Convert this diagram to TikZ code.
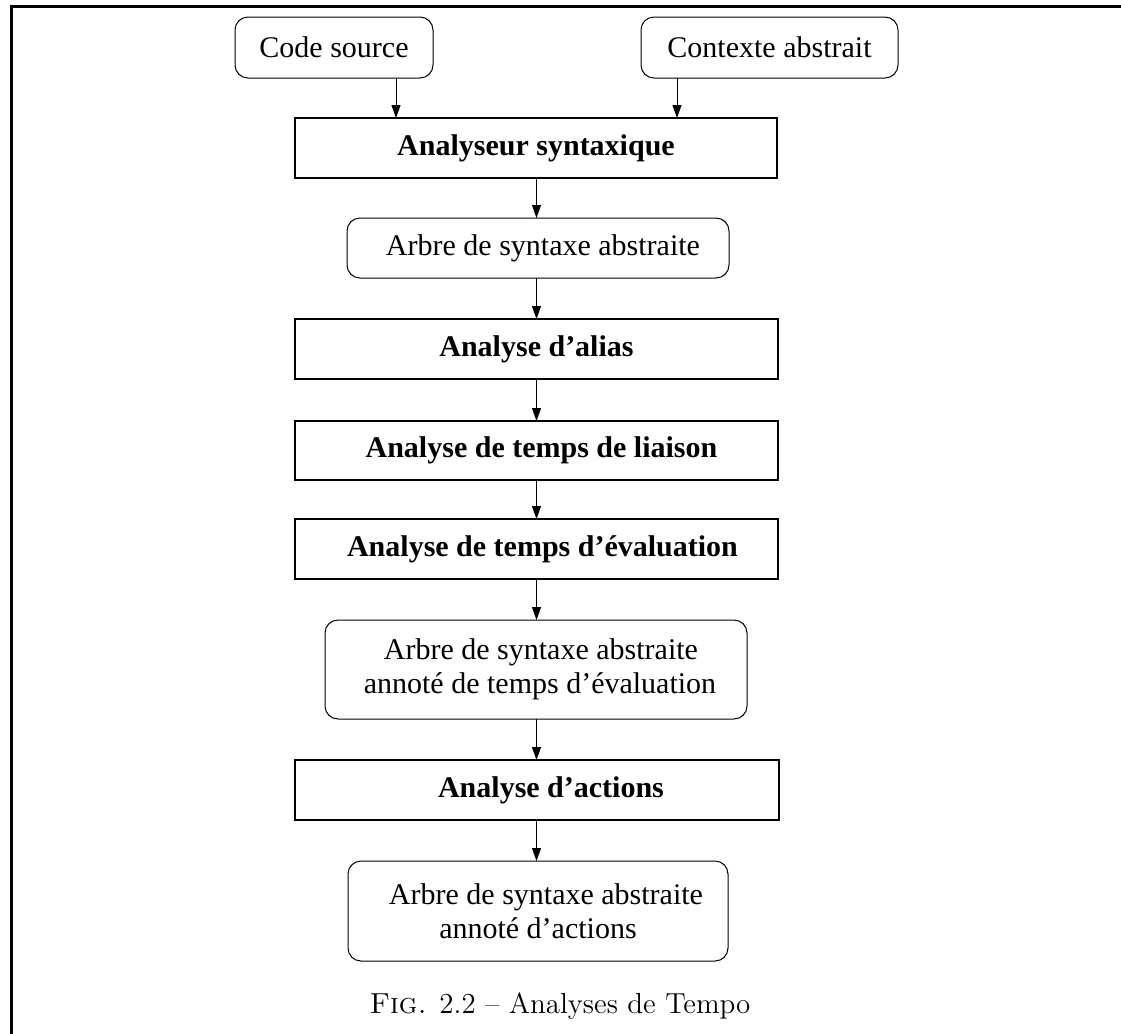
\documentclass[tikz,border=0pt]{standalone}
\usepackage{fontspec}
\newfontfamily\boxfont{Liberation Serif}
\usetikzlibrary{arrows.meta}

\tikzset{
  frameline/.style={line width=1.5pt},
  boxtext/.style={font=\boxfont\fontsize{15}{17}\selectfont, align=center,
                  inner sep=0pt, outer sep=0pt},
  datum/.style={boxtext, draw, line width=0.5pt, rounded corners=6.5pt},
  phase/.style={boxtext, draw, line width=1pt, font=\boxfont\bfseries\fontsize{15}{17}\selectfont},
  flow/.style={line width=0.5pt, -{Triangle[length=6.5pt,width=4.5pt]}},
}
% nudge a centred line to the right
\newcommand\nudge[1]{\hspace*{#1pt}}

\begin{document}
\begin{tikzpicture}[x=0.5pt,y=-0.5pt]
  \useasboundingbox (0,0) rectangle (1121,1034);

  % page frame (top and left rules)
  \draw[frameline] (11.3,1034) -- (11.3,6.5) -- (1121,6.5);

  % inputs
  \node[datum, minimum width=99pt, minimum height=30.5pt] (src) at (334,47.5) {Code source};
  \node[datum, minimum width=128.5pt, minimum height=30.5pt] (ctx) at (769.5,47.5) {Contexte abstrait};

  % processing chain
  \node[phase, minimum width=241pt, minimum height=30pt] (parse) at (536,148) {Analyseur syntaxique};
  \node[datum, minimum width=191pt, minimum height=30pt] (ast) at (538,248) {\nudge{5}Arbre de syntaxe abstraite};
  \node[phase, minimum width=241.5pt, minimum height=30pt] (alias) at (536.5,349) {Analyse d’alias};
  \node[phase, minimum width=241.5pt, minimum height=29.5pt] (bind) at (536.5,450.5) {\nudge{5}Analyse de temps de liaison};
  \node[phase, minimum width=241.5pt, minimum height=30pt] (eval) at (536.5,549) {\nudge{6}Analyse de temps d’évaluation};
  \node[datum, minimum width=211pt, minimum height=49.5pt] (ast2) at (536,669.5) {\nudge{5}Arbre de syntaxe abstraite\\\nudge{4}annoté de temps d’évaluation};
  \node[phase, minimum width=242pt, minimum height=30pt] (act) at (537,790) {\nudge{14}Analyse d’actions};
  \node[datum, minimum width=190pt, minimum height=50pt] (ast3) at (538,911) {\nudge{8}Arbre de syntaxe abstraite\\annoté d’actions};

  % arrow columns
  \coordinate (colA) at (396,0);
  \coordinate (colB) at (677,0);
  \coordinate (spine) at (536.5,0);

  \draw[flow] (src.south -| colA) -- (parse.north -| colA);
  \draw[flow] (ctx.south -| colB) -- (parse.north -| colB);
  \draw[flow] (parse.south -| spine) -- (ast.north -| spine);
  \draw[flow] (ast.south -| spine) -- (alias.north -| spine);
  \draw[flow] (alias.south -| spine) -- (bind.north -| spine);
  \draw[flow] (bind.south -| spine) -- (eval.north -| spine);
  \draw[flow] (eval.south -| spine) -- (ast2.north -| spine);
  \draw[flow] (ast2.south -| spine) -- (act.north -| spine);
  \draw[flow] (act.south -| spine) -- (ast3.north -| spine);

  % caption
  \node[anchor=base, inner sep=0pt, font=\fontsize{14.5}{17}\selectfont] (cap) at (560,1013)
    {\textsc{Fig.} 2.2 -- Analyses de Tempo};
\end{tikzpicture}
\end{document}
